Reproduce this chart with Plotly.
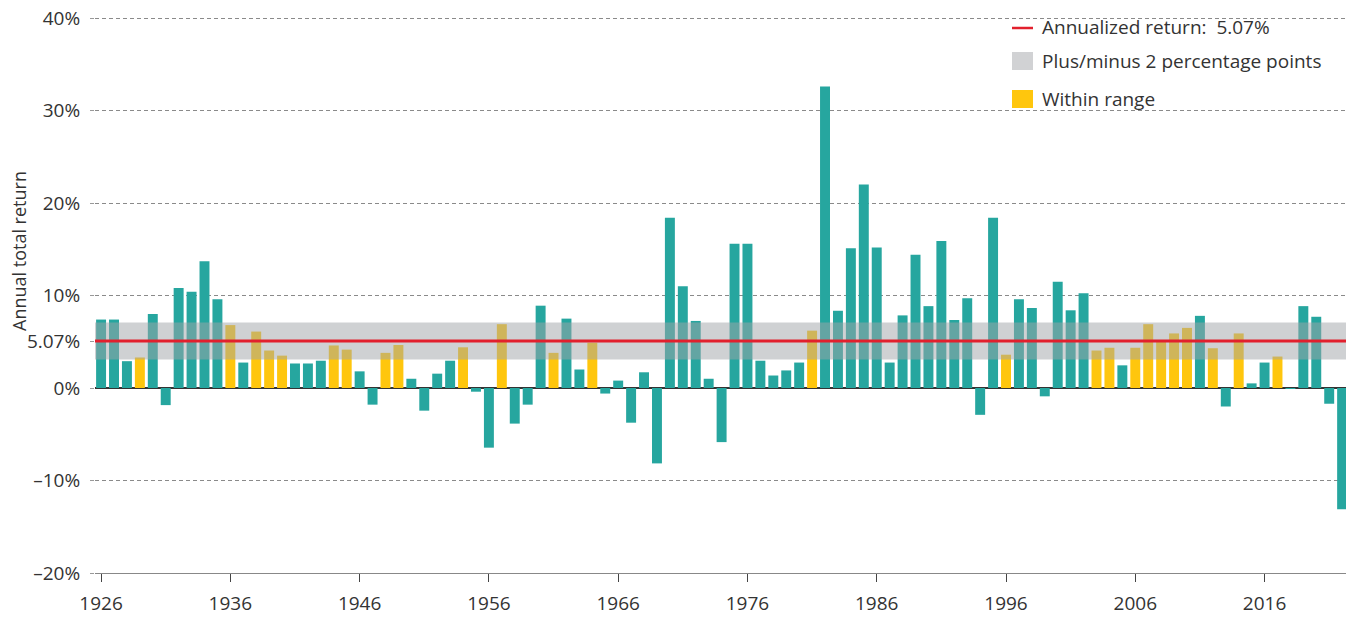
import plotly.graph_objects as go

years = list(range(1926, 2023))
returns = [
    7.4, 7.4, 2.9, 3.3, 8.0, -1.85, 10.8, 10.4, 13.7, 9.6,          # 1926-1935
    6.8, 2.75, 6.1, 4.05, 3.5, 2.65, 2.65, 2.95, 4.6, 4.15,         # 1936-1945
    1.8, -1.8, 3.8, 4.65, 1.0, -2.45, 1.55, 2.95, 4.4, -0.4,        # 1946-1955
    -6.45, 6.9, -3.85, -1.8, 8.9, 3.8, 7.5, 2.0, 4.9, -0.6,         # 1956-1965
    0.8, -3.75, 1.7, -8.15, 18.4, 11.0, 7.25, 1.0, -5.85, 15.6,     # 1966-1975
    15.6, 2.95, 1.35, 1.9, 2.75, 6.2, 32.6, 8.35, 15.1, 22.0,       # 1976-1985
    15.2, 2.75, 7.85, 14.4, 8.85, 15.9, 7.35, 9.7, -2.9, 18.4,      # 1986-1995
    3.6, 9.6, 8.65, -0.9, 11.5, 8.4, 10.25, 4.05, 4.35, 2.45,       # 1996-2005
    4.35, 6.9, 5.0, 5.9, 6.5, 7.8, 4.3, -2.0, 5.9, 0.5,             # 2006-2015
    2.75, 3.4, -0.05, 8.85, 7.7, -1.7, -13.1,                       # 2016-2022
]
annualized = 5.07
band_half = 2.0
x_ticks = list(range(1926, 2017, 10))
y_ticks = [-20, -10, 0, annualized, 10, 20, 30, 40]
y_ticktext = ["\u201320%", "\u201310%", "0%", "5.07%", "10%", "20%", "30%", "40%"]

legend_labels = ["Annualized return:\u00a0\u00a05.07%", "Plus/minus 2 percentage points", "Within range"]

TEAL = "#26a69f"
YELLOW = "#ffc60d"
RED = "#e2202d"
BAND = "rgba(160,163,167,0.5)"
FONT = "Open Sans"
TXT = "#333333"

lo, hi = annualized - band_half, annualized + band_half
colors = [YELLOW if lo <= v <= hi else TEAL for v in returns]

W, H = 1351, 618
L, R, T, B = 95, 1346, 16, 573   # plot area in page pixels
Y_TOP = 40 + 2 / 9.25            # a little headroom so the 40% tick is kept

def px(xp):
    return (xp - L) / (R - L)

def py(yp):
    return (B - yp) / (B - T)

fig = go.Figure()
fig.add_trace(go.Bar(x=years, y=returns, marker=dict(color=colors, line=dict(width=0)),
                     showlegend=False, hoverinfo="x+y"))

shapes = [
    dict(type="rect", xref="paper", yref="y", x0=0, x1=1, y0=lo, y1=hi,
         fillcolor=BAND, line=dict(width=0), layer="above"),
    dict(type="line", xref="paper", yref="y", x0=0, x1=1, y0=annualized, y1=annualized,
         line=dict(color=RED, width=3), layer="above"),
    dict(type="line", xref="paper", yref="paper", x0=px(1012), x1=px(1033), y0=py(28), y1=py(28),
         line=dict(color=RED, width=2.5)),
    dict(type="rect", xref="paper", yref="paper", x0=px(1012), x1=px(1033), y0=py(70), y1=py(52),
         fillcolor="#d1d2d4", line=dict(width=0)),
    dict(type="rect", xref="paper", yref="paper", x0=px(1012), x1=px(1033), y0=py(108), y1=py(90),
         fillcolor=YELLOW, line=dict(width=0)),
]

annotations = []
for label, yc in zip(legend_labels, [27, 61, 99]):
    annotations.append(dict(xref="paper", yref="paper", x=px(1040), y=py(yc), text=label,
                            showarrow=False, xanchor="left", yanchor="middle",
                            font=dict(family=FONT, size=19, color=TXT)))
annotations.append(dict(xref="paper", yref="paper", x=px(19), y=py(251), text="Annual total return",
                        textangle=-90, showarrow=False, xanchor="center", yanchor="middle",
                        font=dict(family=FONT, size=18, color=TXT)))

fig.update_layout(
    width=W, height=H,
    margin=dict(l=L, r=W - R, t=T, b=H - B, autoexpand=False),
    plot_bgcolor="white", paper_bgcolor="white",
    bargap=0.23,
    shapes=shapes, annotations=annotations,
    showlegend=False,
    font=dict(family=FONT, color=TXT),
)
fig.update_xaxes(
    range=[1925.53, 2022.3], tickvals=x_ticks, ticks="outside", ticklen=8, tickcolor="#444444",
    showline=True, linecolor="#888888", linewidth=1, showgrid=False, ticklabelstandoff=5,
    tickfont=dict(family=FONT, size=19, color=TXT), ticklabeloverflow="allow",
)
fig.update_yaxes(
    range=[-20, Y_TOP], tickvals=y_ticks, ticktext=y_ticktext,
    ticks="outside", ticklen=4, tickcolor="#999999", ticklabelstandoff=6,
    showgrid=True, gridcolor="#8a8a8a", griddash="4px,3px", gridwidth=1.3,
    zeroline=True, zerolinecolor="#333333", zerolinewidth=1.5,
    tickfont=dict(family=FONT, size=19, color=TXT), ticklabeloverflow="allow",
)

fig.write_html("out.html", config={"displayModeBar": False},
               post_script="document.body.style.margin='0';")
